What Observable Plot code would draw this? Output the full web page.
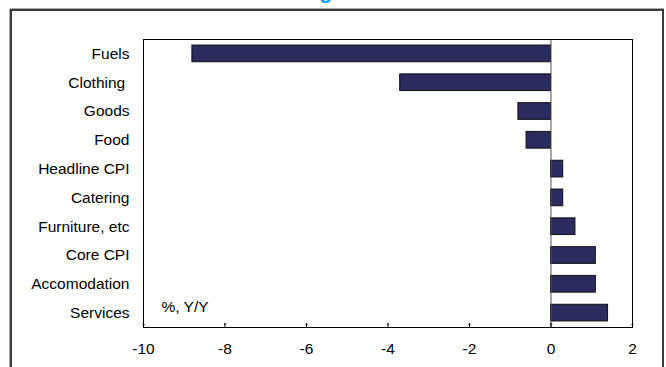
<!DOCTYPE html>
<html>
<head>
<meta charset="utf-8">
<script src="https://cdn.jsdelivr.net/npm/d3@7"></script>
<script src="https://cdn.jsdelivr.net/npm/@observablehq/plot@0.6"></script>
<style>
  html, body { margin: 0; padding: 0; background: #fff; overflow: hidden; }
  #wrap { position: relative; width: 666px; height: 367px; overflow: hidden; font-family: "Liberation Sans", Arial, sans-serif; }
  #title { position: absolute; left: 319px; top: -20px; font-size: 22px; line-height: 22px; font-weight: bold; color: #1a9fe6; white-space: nowrap; }
  #outer { position: absolute; left: 10px; top: 9px; width: 650px; height: 420px; border: 2px solid #3a3a3a; box-shadow: 0 -1px 0 #aaa, -1px 0 0 #aaa; }
  #chart { position: absolute; left: 0; top: 0; }
</style>
</head>
<body>
<div id="wrap">
  <div id="title">g</div>
  <div id="outer"></div>
  <div id="chart"></div>
</div>
<script>
const categories = ["Fuels", "Clothing\u00a0", "Goods", "Food", "Headline CPI", "Catering", "Furniture, etc", "Core CPI", "Accomodation", "Services"];
const values = [-8.8, -3.7, -0.8, -0.6, 0.3, 0.3, 0.6, 1.1, 1.1, 1.4];
const xTicks = [-10, -8, -6, -4, -2, 0, 2];
const unitLabel = ["%, Y/Y"];

const data = categories.map((c, i) => ({category: c, value: values[i]}));

const FS = 15.5;
const chart = Plot.plot({
  width: 666,
  height: 367,
  marginLeft: 143,
  marginRight: 34,
  marginTop: 39,
  marginBottom: 40,
  style: {fontFamily: '"Liberation Sans", Arial, sans-serif', fontSize: FS + "px", background: "transparent", color: "#000", overflow: "visible"},
  x: {domain: [-10, 2]},
  y: {domain: categories, paddingInner: 0.42, paddingOuter: 0.21, round: false},
  marks: [
    Plot.barX(data, {x: "value", y: "category", fill: "#2d2a5e", stroke: "#111", strokeWidth: 1}),
    Plot.ruleX([0], {stroke: "#555", strokeWidth: 1}),
    Plot.frame({stroke: "#000", strokeWidth: 1}),
    Plot.axisX({ticks: xTicks, tickSize: 0, tickPadding: 15, tickFormat: d => String(d).replace("\u2212", "-"), label: null, fontSize: FS}),
    Plot.vector(xTicks, {x: d => d, frameAnchor: "bottom", length: 4, anchor: "start", rotate: 0, stroke: "#000", strokeWidth: 1}),
    Plot.axisY({tickSize: 0, tickPadding: 14, label: null, fontSize: FS}),
    Plot.text(unitLabel, {frameAnchor: "bottom-left", textAnchor: "start", lineAnchor: "middle", dx: 18, dy: -20, fontSize: FS, fill: "#000"})
  ]
});
document.getElementById("chart").appendChild(chart);
</script>
</body>
</html>
